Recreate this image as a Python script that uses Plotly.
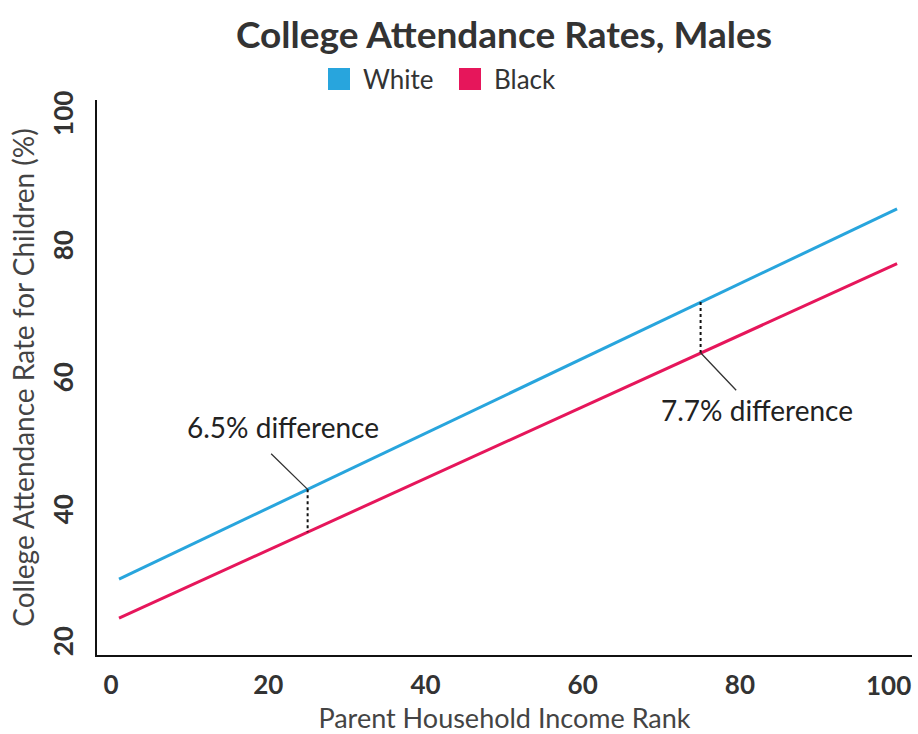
import plotly.graph_objects as go

income_rank = [1, 25, 75, 100]
white_rate = [30.0, 43.6, 72.0, 86.1]
black_rate = [24.1, 37.1, 64.3, 77.8]
gap_ranks = [25, 75]
gap_labels = ["6.5% difference", "7.7% difference"]
series_names = ["White", "Black"]
x_ticks = [0, 20, 40, 60, 80, 100]
y_ticks = [20, 40, 60, 80, 100]

BLUE = "#28a5dd"
RED = "#e6165b"
FONT = "Lato"
TXT = "#333333"

# plot-area pixel geometry (for legend placement in paper coords)
L, R, T, B, W, H = 97, 6, 100, 79, 918, 734
PW, PH = W - L - R, H - T - B


def px_x(p):
    return (p - L) / PW


def px_y(p):
    return (H - B - p) / PH


fig = go.Figure()
fig.add_trace(go.Scatter(x=income_rank, y=white_rate, mode="lines",
                         line=dict(color=BLUE, width=3), showlegend=False, name=series_names[0]))
fig.add_trace(go.Scatter(x=income_rank, y=black_rate, mode="lines",
                         line=dict(color=RED, width=3), showlegend=False, name=series_names[1]))

# dotted gap connectors
for r in gap_ranks:
    i = income_rank.index(r)
    fig.add_trace(go.Scatter(x=[r, r], y=[white_rate[i], black_rate[i]], mode="lines",
                             line=dict(color="#111111", width=2, dash="dot"),
                             showlegend=False, hoverinfo="skip"))

# custom legend (squares + labels)
legend_sq_left = [328, 459]
legend_txt_left = [361, 492]
for name, col, sx, tx in zip(series_names, [BLUE, RED], legend_sq_left, legend_txt_left):
    fig.add_shape(type="rect", xref="paper", yref="paper",
                  x0=px_x(sx), x1=px_x(sx + 22), y0=px_y(90), y1=px_y(68),
                  fillcolor=col, line=dict(width=0))
    fig.add_annotation(xref="paper", yref="paper", x=px_x(tx), y=px_y(79),
                       xanchor="left", yanchor="middle", text=name, showarrow=False,
                       font=dict(family=FONT, size=26, color=TXT))

afont = dict(family=FONT, size=28, color="#222222")
# 6.5% annotation: leader + label
i0 = income_rank.index(gap_ranks[0])
fig.add_annotation(x=gap_ranks[0], y=white_rate[i0], text="",
                   showarrow=True, arrowhead=0, arrowwidth=1.3, arrowcolor="#333333",
                   ax=-38, ay=-37)
fig.add_annotation(x=gap_ranks[0], y=white_rate[i0], text=gap_labels[0],
                   showarrow=False, xshift=-25, yshift=62, font=afont)
# 7.7% annotation
i1 = income_rank.index(gap_ranks[1])
fig.add_annotation(x=gap_ranks[1], y=black_rate[i1], text="",
                   showarrow=True, arrowhead=0, arrowwidth=1.3, arrowcolor="#333333",
                   ax=37, ay=39)
fig.add_annotation(x=gap_ranks[1], y=black_rate[i1], text=gap_labels[1],
                   showarrow=False, xshift=56, yshift=-57, font=afont)

# last x tick label, justified inside the chart edge (as in the reference)
tickfont = dict(family=FONT, size=26, color=TXT, weight="bold")
x_tick_text = [str(v) for v in x_ticks[:-1]] + [""]
fig.add_annotation(xref="x", yref="paper", x=x_ticks[-1], y=px_y(685),
                   xanchor="right", yanchor="middle", xshift=16,
                   text=str(x_ticks[-1]), showarrow=False, font=tickfont)

fig.update_layout(
    width=W, height=H,
    margin=dict(l=L, r=R, t=T, b=B, autoexpand=False),
    paper_bgcolor="white", plot_bgcolor="white",
    font=dict(family=FONT, color=TXT),
    showlegend=False,
    title=dict(text="<b>College Attendance Rates, Males</b>", x=0.549, xanchor="center",
               y=0.952, yanchor="middle",
               font=dict(family=FONT, size=37, color=TXT)),
    xaxis=dict(range=[-1.8, 101.9], tickvals=x_ticks, ticktext=x_tick_text,
               showgrid=False, zeroline=False,
               showline=True, linecolor="#111111", linewidth=2, ticks="",
               automargin=False,
               ticklabeloverflow="allow", ticklabelstandoff=6,
               tickfont=tickfont,
               title=dict(text="Parent Household Income Rank", standoff=10,
                          font=dict(family=FONT, size=27, color="#444444"))),
    yaxis=dict(range=[18.5, 102.6], tickvals=y_ticks, showgrid=False, zeroline=False,
               showline=True, linecolor="#111111", linewidth=2, ticks="",
               automargin=False,
               tickangle=-90, ticklabelstandoff=12,
               tickfont=tickfont,
               title=dict(text="College Attendance Rate for Children (%)", standoff=4,
                          font=dict(family=FONT, size=28, color="#444444"))),
)

fig.write_html("out.html")
